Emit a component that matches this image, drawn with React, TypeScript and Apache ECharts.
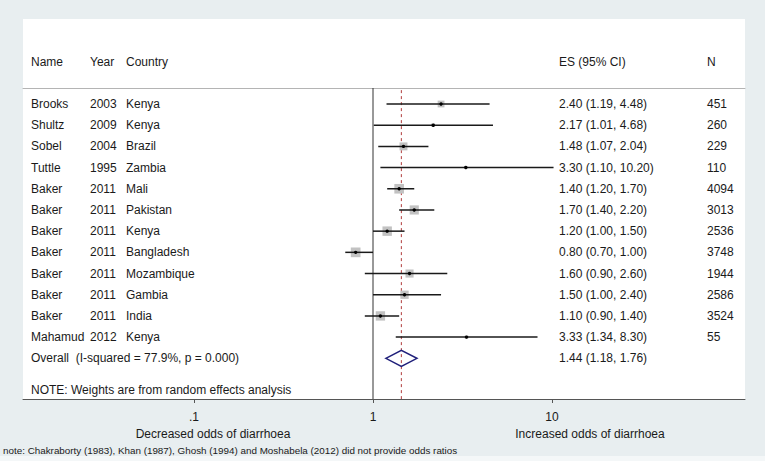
import React, { useEffect, useRef } from 'react';
import * as echarts from 'echarts';

// ---- data ----
const names = ['Brooks', 'Shultz', 'Sobel', 'Tuttle', 'Baker', 'Baker', 'Baker', 'Baker', 'Baker', 'Baker', 'Baker', 'Mahamud'];
const years = ['2003', '2009', '2004', '1995', '2011', '2011', '2011', '2011', '2011', '2011', '2011', '2012'];
const countries = ['Kenya', 'Kenya', 'Brazil', 'Zambia', 'Mali', 'Pakistan', 'Kenya', 'Bangladesh', 'Mozambique', 'Gambia', 'India', 'Kenya'];
const esValues = [2.40, 2.17, 1.48, 3.30, 1.40, 1.70, 1.20, 0.80, 1.60, 1.50, 1.10, 3.33];
const lowerCI = [1.19, 1.01, 1.07, 1.10, 1.20, 1.40, 1.00, 0.70, 0.90, 1.00, 0.90, 1.34];
const upperCI = [4.48, 4.68, 2.04, 10.20, 1.70, 2.20, 1.50, 1.00, 2.60, 2.40, 1.40, 8.30];
const sampleN = [451, 260, 229, 110, 4094, 3013, 2536, 3748, 1944, 2586, 3524, 55];
const weights = [5.5, 1.6, 7.5, 1.0, 11.0, 10.0, 10.6, 11.2, 7.8, 8.2, 10.4, 1.4];
const overallES = 1.44;
const overallLower = 1.18;
const overallUpper = 1.76;
const overallLabel = 'Overall  (I-squared = 77.9%, p = 0.000)';
const noteLabel = 'NOTE: Weights are from random effects analysis';
const headers = ['Name', 'Year', 'Country', 'ES (95% CI)', 'N'];
const tickValues = [0.1, 1, 10];
const tickLabels = ['.1', '1', '10'];
const leftTitle = 'Decreased odds of diarrhoea';
const rightTitle = 'Increased odds of diarrhoea';
const footnote = 'note: Chakraborty (1983), Khan (1987), Ghosh (1994) and Moshabela (2012) did not provide odds ratios';

// ---- layout ----
const FONT = "'Liberation Sans', Arial, sans-serif";
const TEXT = '#1a1a1a';
const COL_X = [31, 90, 126, 559, 707];
const X_MIN = (23 - 373) / 179;
const X_MAX = (745 - 373) / 179;
const Y_MIN = -0.755;
const Y_MAX = 13.92;
const OVERALL_ROW = 12;
const NOTE_ROW = 13.5;

const fmt = (v: number) => v.toFixed(2);

export default function App() {
  const ref = useRef<HTMLDivElement>(null);
  useEffect(() => {
    if (!ref.current) return;
    const chart = echarts.init(ref.current, undefined, { renderer: 'svg' });

    const studyData = esValues.map((v, i) => [Math.log10(v), Math.log10(lowerCI[i]), Math.log10(upperCI[i]), i, weights[i]]);
    const tableData = names.map((_, i) => [0, i]);

    const txt = (x: number, y: number, text: string, size = 12, align = 'left') => ({
      type: 'text',
      x,
      y,
      style: { text, fill: TEXT, fontSize: size, fontFamily: FONT, align, verticalAlign: 'middle' },
    });

    const option: any = {
      animation: false,
      backgroundColor: '#e8eef0',
      grid: { left: 23, right: 20, top: 88, bottom: 62 },
      xAxis: [
        {
          type: 'value',
          min: X_MIN,
          max: X_MAX,
          position: 'bottom',
          splitLine: { show: false },
          axisLine: { show: true, onZero: false, lineStyle: { color: '#555', width: 1 } },
          axisTick: { show: true, length: 4, lineStyle: { color: '#555' }, customValues: tickValues.map((v) => Math.log10(v)) },
          axisLabel: {
            show: true,
            margin: 12,
            color: TEXT,
            fontSize: 12,
            fontFamily: FONT,
            customValues: tickValues.map((v) => Math.log10(v)),
            formatter: (val: number) => {
              const idx = tickValues.findIndex((t) => Math.abs(Math.log10(t) - val) < 1e-6);
              return idx >= 0 ? tickLabels[idx] : '';
            },
          },
        },
        {
          type: 'value',
          min: X_MIN,
          max: X_MAX,
          position: 'top',
          splitLine: { show: false },
          axisLine: { show: true, onZero: false, lineStyle: { color: '#b4b4b4', width: 1 } },
          axisTick: { show: false },
          axisLabel: { show: false },
        },
      ],
      yAxis: {
        type: 'value',
        inverse: true,
        min: Y_MIN,
        max: Y_MAX,
        show: false,
      },
      graphic: [
        { type: 'rect', z: -100, shape: { x: 23, y: 19, width: 722, height: 380 }, style: { fill: '#ffffff' } },
        { type: 'rect', z: -100, shape: { x: 0, y: 456, width: 765, height: 5 }, style: { fill: '#f4f7f8' } },
        ...headers.map((h, i) => txt(COL_X[i], 62, h)),
        txt(213, 434, leftTitle, 12, 'center'),
        txt(590, 434, rightTitle, 12, 'center'),
        txt(3, 450, footnote, 9.85),
      ],
      series: [
        {
          type: 'custom',
          z: 1,
          silent: true,
          data: [[0, Math.log10(overallES)]],
          encode: { x: [0, 1] },
          renderItem: (params: any, api: any) => {
            const a0 = api.coord([api.value(0), Y_MIN]);
            const a1 = api.coord([api.value(0), Y_MAX]);
            const d0 = api.coord([api.value(1), Y_MIN + 0.1]);
            const d1 = api.coord([api.value(1), Y_MAX]);
            return {
              type: 'group',
              children: [
                { type: 'line', shape: { x1: a0[0], y1: a0[1], x2: a1[0], y2: a1[1] }, style: { stroke: '#333', lineWidth: 1 } },
                { type: 'line', shape: { x1: d0[0], y1: d0[1], x2: d1[0], y2: d1[1] }, style: { stroke: '#b03c3c', lineWidth: 1, lineDash: [3, 3] } },
              ],
            };
          },
        },
        {
          type: 'custom',
          z: 3,
          data: studyData,
          encode: { x: [0, 1, 2], y: 3 },
          renderItem: (params: any, api: any) => {
            const row = api.value(3);
            const c = api.coord([api.value(0), row]);
            const lo = api.coord([api.value(1), row]);
            const hi = api.coord([api.value(2), row]);
            const s = 2.9 * Math.sqrt(api.value(4));
            return {
              type: 'group',
              children: [
                { type: 'rect', shape: { x: c[0] - s / 2, y: c[1] - s / 2, width: s, height: s }, style: { fill: '#c2c2c2' } },
                { type: 'line', shape: { x1: lo[0], y1: lo[1], x2: hi[0], y2: hi[1] }, style: { stroke: '#1a1a1a', lineWidth: 1.5 } },
                { type: 'circle', shape: { cx: c[0], cy: c[1], r: 1.7 }, style: { fill: '#000' } },
              ],
            };
          },
        },
        {
          type: 'custom',
          z: 3,
          data: tableData,
          encode: { x: 0, y: 1 },
          renderItem: (params: any, api: any) => {
            const i = params.dataIndex;
            const y = api.coord([0, api.value(1)])[1];
            return {
              type: 'group',
              children: [
                txt(COL_X[0], y, names[i]),
                txt(COL_X[1], y, years[i]),
                txt(COL_X[2], y, countries[i]),
                txt(COL_X[3], y, `${fmt(esValues[i])} (${fmt(lowerCI[i])}, ${fmt(upperCI[i])})`),
                txt(COL_X[4], y, String(sampleN[i])),
              ],
            };
          },
        },
        {
          type: 'custom',
          z: 4,
          data: [[Math.log10(overallES), Math.log10(overallLower), Math.log10(overallUpper), OVERALL_ROW]],
          encode: { x: [0, 1, 2], y: 3 },
          renderItem: (params: any, api: any) => {
            const row = api.value(3);
            const c = api.coord([api.value(0), row]);
            const lo = api.coord([api.value(1), row]);
            const hi = api.coord([api.value(2), row]);
            const noteY = api.coord([0, NOTE_ROW])[1];
            const h = 8;
            return {
              type: 'group',
              children: [
                {
                  type: 'polygon',
                  shape: { points: [[lo[0], c[1]], [c[0], c[1] - h], [hi[0], c[1]], [c[0], c[1] + h]] },
                  style: { fill: 'none', stroke: '#1f1f7a', lineWidth: 1.5 },
                },
                txt(COL_X[0], c[1], overallLabel),
                txt(COL_X[3], c[1], `${fmt(overallES)} (${fmt(overallLower)}, ${fmt(overallUpper)})`),
                txt(COL_X[0], noteY, noteLabel),
              ],
            };
          },
        },
      ],
    };
    chart.setOption(option);
    return () => chart.dispose();
  }, []);
  return <div ref={ref} style={{ position: 'fixed', left: 0, top: 0, width: 765, height: 461 }} />;
}
